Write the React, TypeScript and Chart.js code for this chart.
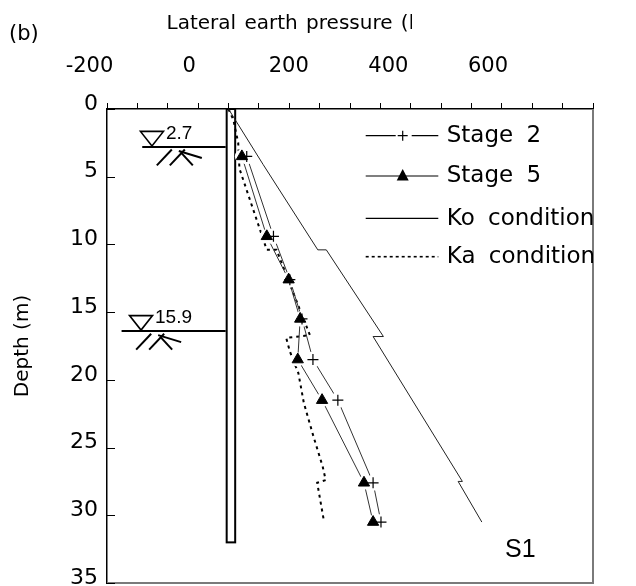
import React, { useEffect, useRef } from "react";
import { Chart, registerables } from "chart.js";
Chart.register(...registerables);

// ---- tick labels ----
const xTickLabels = [-200, 0, 200, 400, 600];

// ---- measured stages ----
const stageDepths = [3.5, 9.4, 12.6, 15.5, 18.5, 21.5, 27.6, 30.5];
const stage2Pressure = [30, 74, 101, 121, 139, 180, 238, 251];
const stage5Pressure = [22, 63, 99, 118, 114, 154, 223, 238];

// ---- Ko condition ----
const koDepths = [0, 4.1, 10.4, 10.4, 16.8, 16.8, 27.5, 27.5, 30.5];
const koPressure = [0, 57, 147, 161, 255, 238, 385, 378, 417];

// ---- Ka condition ----
const kaDepths = [0, 0.8, 2.5, 4.4, 10.4, 10.4, 16.7, 16.9, 17.9, 19.5, 21.7, 24.2, 26.4, 27.4, 27.6, 30.4];
const kaPressure = [0, 8, 16, 18, 63, 79, 134, 95, 101, 115, 124, 140, 155, 160, 146, 157];

// ---- wall and water tables ----
const wallX = [-3, 11];
const wallBottom = 32;
const waterLabels = ["2.7", "15.9"];
const waterLineDepths = [2.8, 16.4];
const waterLineStart = [-142, -176];
const waterApexX = [-126, -144];
const hatchStartX = [-118, -152];

const legendLabels = ["Stage 2", "Stage 5", "Ko condition", "Ka condition"];

const pts = (xs: number[], ys: number[]) => xs.map((v, i) => ({ x: v, y: ys[i] }));

const decor = {
  id: "decor",
  beforeDatasetsDraw(chart: any) {
    const { ctx, scales } = chart;
    const x = scales.x, y = scales.y;
    ctx.save();
    const l = x.getPixelForValue(wallX[0]);
    const r = x.getPixelForValue(wallX[1]);
    const t = y.getPixelForValue(0);
    const b = y.getPixelForValue(wallBottom);
    ctx.fillStyle = "#fff";
    ctx.fillRect(l, t, r - l, b - t);
    ctx.strokeStyle = "#000";
    ctx.lineWidth = 2;
    ctx.strokeRect(l, t, r - l, b - t);
    waterLabels.forEach((lab, i) => {
      const ly = y.getPixelForValue(waterLineDepths[i]);
      const x0 = x.getPixelForValue(waterLineStart[i]);
      ctx.strokeStyle = "#000";
      ctx.lineWidth = 2;
      ctx.beginPath();
      ctx.moveTo(x0, ly);
      ctx.lineTo(l - 1, ly);
      ctx.stroke();
      const ax = x.getPixelForValue(waterApexX[i]);
      ctx.beginPath();
      ctx.moveTo(ax - 11.5, ly - 15.5);
      ctx.lineTo(ax + 11.5, ly - 15.5);
      ctx.lineTo(ax, ly - 1);
      ctx.closePath();
      ctx.fillStyle = "#fff";
      ctx.fill();
      ctx.lineWidth = 1.6;
      ctx.stroke();
      ctx.fillStyle = "#000";
      ctx.font = '19px "Liberation Sans"';
      ctx.textBaseline = "middle";
      ctx.textAlign = "left";
      ctx.fillText(lab, ax + 14, ly - 13);
      const hx = x.getPixelForValue(hatchStartX[i]);
      const segs = [
        [0, 18.5, 15, 2.6],
        [13, 18.5, 28, 2.6],
        [22, 4, 45, 11],
        [24, 5.5, 36, 18.5],
      ];
      ctx.lineWidth = 2;
      segs.forEach(([a, b2, c, d]) => {
        ctx.beginPath();
        ctx.moveTo(hx + a, ly + b2);
        ctx.lineTo(hx + c, ly + d);
        ctx.stroke();
      });
    });
    ctx.restore();
  },
  afterDraw(chart: any) {
    const { ctx, scales, chartArea } = chart;
    const x = scales.x, y = scales.y;
    const { left, right, top, bottom } = chartArea;
    ctx.save();
    // right & bottom frame
    ctx.strokeStyle = "#7a7a7a";
    ctx.lineWidth = 2;
    ctx.beginPath();
    ctx.moveTo(right, top);
    ctx.lineTo(right, bottom);
    ctx.lineTo(left, bottom);
    ctx.stroke();
    // inward y ticks
    ctx.strokeStyle = "#000";
    ctx.lineWidth = 1;
    y.ticks.forEach((tk: any) => {
      const py = Math.round(y.getPixelForValue(tk.value)) + 0.5;
      ctx.beginPath();
      ctx.moveTo(left, py);
      ctx.lineTo(left + 8, py);
      ctx.stroke();
    });
    // x tick labels
    ctx.fillStyle = "#000";
    ctx.font = '21px "DejaVu Sans"';
    ctx.textAlign = "center";
    ctx.textBaseline = "alphabetic";
    xTickLabels.forEach((v) => {
      const px = left - 17.5 + (x.getPixelForValue(v) - left) * 0.82;
      ctx.fillText(String(v), px, 72);
    });
    // axis title (clipped)
    ctx.save();
    ctx.beginPath();
    ctx.rect(0, 0, 412, 100);
    ctx.clip();
    ctx.textAlign = "left";
    ctx.font = '20px "DejaVu Sans"';
    (ctx as any).wordSpacing = "2px";
    ctx.fillText("Lateral earth pressure (kPa)", 166.5, 29);
    ctx.restore();
    // (b)
    ctx.textAlign = "left";
    ctx.textBaseline = "middle";
    ctx.font = '21px "DejaVu Sans"';
    ctx.fillText("(b)", 9, 35);
    // y title
    ctx.save();
    ctx.translate(23, (top + bottom) / 2);
    ctx.rotate(-Math.PI / 2);
    ctx.textAlign = "center";
    ctx.font = '20px "DejaVu Sans"';
    ctx.fillText("Depth (m)", 0, 0);
    ctx.restore();
    // S1
    ctx.font = '25px "Liberation Sans"';
    ctx.textBaseline = "alphabetic";
    ctx.fillText("S1", 505, 557);
    // legend
    ctx.save();
    ctx.beginPath();
    ctx.rect(left, top, right - left, bottom - top);
    ctx.clip();
    const lx0 = right - 227.3;
    const lx1 = right - 154.7;
    const mx = right - 190.3;
    const rowY = [top + 26.7, top + 67, top + 109.3, top + 147.7];
    ctx.strokeStyle = "#000";
    rowY.forEach((ry, i) => {
      ctx.setLineDash(i === 3 ? [3, 3] : []);
      ctx.lineWidth = i === 3 ? 1.6 : 1.2;
      ctx.beginPath();
      if (i === 0) {
        ctx.moveTo(lx0, ry); ctx.lineTo(mx - 7, ry);
        ctx.moveTo(mx + 9, ry); ctx.lineTo(lx1, ry);
      } else {
        ctx.moveTo(lx0, ry); ctx.lineTo(lx1, ry);
      }
      ctx.stroke();
      ctx.setLineDash([]);
      if (i === 0) {
        ctx.lineWidth = 1.2;
        ctx.beginPath();
        ctx.moveTo(mx - 5, ry); ctx.lineTo(mx + 5, ry);
        ctx.moveTo(mx, ry - 5); ctx.lineTo(mx, ry + 5);
        ctx.stroke();
      }
      if (i === 1) {
        ctx.fillStyle = "#000";
        ctx.beginPath();
        ctx.moveTo(mx, ry - 7);
        ctx.lineTo(mx + 6, ry + 4.5);
        ctx.lineTo(mx - 6, ry + 4.5);
        ctx.closePath();
        ctx.fill();
      }
      ctx.fillStyle = "#000";
      ctx.font = '23px "DejaVu Sans"';
      ctx.textAlign = "left";
      ctx.textBaseline = "middle";
      (ctx as any).wordSpacing = "6px";
      ctx.fillText(legendLabels[i], right - 146.3, ry + 0.5);
    });
    ctx.restore();
    ctx.restore();
  },
};

export default function App() {
  const ref = useRef<HTMLCanvasElement>(null);
  useEffect(() => {
    if (!ref.current) return;
    Chart.defaults.font.family = '"DejaVu Sans"';
    const chart = new Chart(ref.current, {
      type: "scatter",
      data: {
        datasets: [
          {
            label: "Ko condition",
            data: pts(koPressure, koDepths),
            showLine: true,
            borderColor: "#222",
            borderWidth: 1,
            pointRadius: 0,
            order: 6,
          },
          {
            label: "Ka condition",
            data: pts(kaPressure, kaDepths),
            showLine: true,
            borderColor: "#000",
            borderWidth: 2,
            borderDash: [3, 4],
            pointRadius: 0,
            order: 6,
          },
          {
            label: "Stage 2 line",
            data: pts(stage2Pressure, stageDepths),
            showLine: true,
            borderColor: "#333",
            borderWidth: 1,
            pointRadius: 0,
            order: 5,
          },
          {
            label: "Stage 5 line",
            data: pts(stage5Pressure, stageDepths),
            showLine: true,
            borderColor: "#333",
            borderWidth: 1,
            pointRadius: 0,
            order: 5,
          },
          {
            label: "gap2",
            data: pts(stage2Pressure, stageDepths),
            showLine: false,
            pointRadius: 8,
            pointBackgroundColor: "#fff",
            pointBorderWidth: 0,
            pointBorderColor: "#fff",
            order: 4,
          },
          {
            label: "gap5",
            data: pts(stage5Pressure, stageDepths),
            showLine: false,
            pointRadius: 7,
            pointBackgroundColor: "#fff",
            pointBorderWidth: 0,
            pointBorderColor: "#fff",
            order: 4,
          },
          {
            label: "Stage 2",
            data: pts(stage2Pressure, stageDepths),
            showLine: false,
            pointStyle: "cross",
            pointRadius: 5.5,
            pointBorderColor: "#000",
            pointBorderWidth: 1.2,
            order: 2,
          },
          {
            label: "Stage 5",
            data: pts(stage5Pressure, stageDepths),
            showLine: false,
            pointStyle: "triangle",
            pointRadius: 6.5,
            pointBackgroundColor: "#000",
            pointBorderColor: "#000",
            pointBorderWidth: 1,
            order: 1,
          },
        ],
      },
      options: {
        animation: false,
        responsive: false,
        maintainAspectRatio: false,
        layout: { autoPadding: false, padding: { left: 0, right: 43, top: 0, bottom: 3 } },
        plugins: { legend: { display: false }, tooltip: { enabled: false } },
        events: [],
        scales: {
          x: {
            type: "linear",
            position: "top",
            min: -200,
            max: 600,
            ticks: { stepSize: 50, display: false, autoSkip: false },
            grid: { display: true, drawOnChartArea: false, drawTicks: true, tickLength: 6, color: "#000", lineWidth: 1 },
            border: { display: true, color: "#000", width: 1.5 },
            afterFit: (s: any) => { s.height = 109; s.paddingLeft = 0; s.paddingRight = 0; },
          },
          y: {
            type: "linear",
            position: "left",
            reverse: true,
            min: 0,
            max: 35,
            ticks: { stepSize: 5, color: "#000", font: { size: 22, family: '"DejaVu Sans"' }, padding: 9, labelOffset: -5 },
            grid: { display: false, drawTicks: false },
            border: { display: true, color: "#000", width: 1.5 },
            afterFit: (s: any) => { s.width = 107; s.paddingTop = 0; s.paddingBottom = 0; },
          },
        },
      } as any,
      plugins: [decor],
    });
    return () => chart.destroy();
  }, []);
  return (
    <div style={{ position: "fixed", left: 0, top: 0, width: 636, height: 586, background: "#fff" }}>
      <canvas ref={ref} width={636} height={586} style={{ display: "block" }} />
    </div>
  );
}
